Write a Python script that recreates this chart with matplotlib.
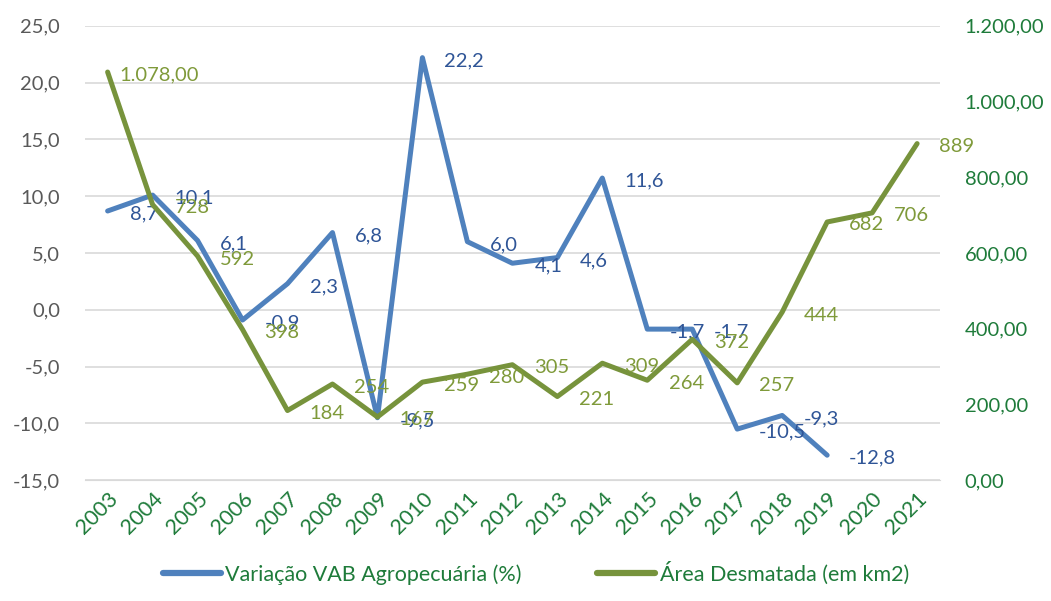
import matplotlib.pyplot as plt
from matplotlib.ticker import FuncFormatter

plt.rcParams['font.family'] = ['Lato', 'DejaVu Sans']

years = [str(y) for y in range(2003, 2022)]
vab_var = [8.7, 10.1, 6.1, -0.9, 2.3, 6.8, -9.5, 22.2, 6.0, 4.1, 4.6, 11.6,
           -1.7, -1.7, -10.5, -9.3, -12.8]
area_desm = [1078, 728, 592, 398, 184, 254, 167, 259, 280, 305, 221, 309,
             264, 372, 257, 444, 682, 706, 889]

blue = '#4F81BD'
blue_txt = '#2F5597'
olive = '#77933C'
olive_txt = '#7F9A3A'
green_txt = '#1E7B3A'
gray_txt = '#595959'


def br_num(v, dec):
    s = f"{v:,.{dec}f}"
    return s.replace(',', 'X').replace('.', ',').replace('X', '.')


fig = plt.figure(figsize=(10.51, 6.01), dpi=100)
ax = fig.add_axes([0.081, 0.201, 0.813, 0.756])
ax2 = ax.twinx()

x_vab = list(range(len(vab_var)))
x_area = list(range(len(area_desm)))

l1, = ax.plot(x_vab, vab_var, color=blue, lw=3.6, solid_capstyle='round',
              label='Variação VAB Agropecuária (%)', zorder=3)
l2, = ax2.plot(x_area, area_desm, color=olive, lw=3.6, solid_capstyle='round',
               label='Área Desmatada (em km2)', zorder=3)

ax.set_ylim(-15, 25)
ax.set_yticks(range(-15, 26, 5))
ax2.set_ylim(0, 1200)
ax2.set_yticks(range(0, 1201, 200))
ax.set_xlim(-0.5, len(years) - 0.5)
ax.set_xticks(range(len(years)))
ax.set_xticklabels(years, rotation=45, ha='right', rotation_mode='anchor',
                   color=green_txt, fontsize=15.5)

ax.yaxis.set_major_formatter(FuncFormatter(lambda v, p: br_num(v, 1)))
ax2.yaxis.set_major_formatter(FuncFormatter(lambda v, p: br_num(v, 2)))
ax.tick_params(axis='y', colors=gray_txt, labelsize=14.5, length=0, pad=18)
ax2.tick_params(axis='y', colors=green_txt, labelsize=14.5, length=0, pad=18)
ax.tick_params(axis='x', length=0, pad=6)

ax.grid(axis='y', color='#D9D9D9', lw=1.2)
ax.set_axisbelow(True)
for a in (ax, ax2):
    for s in a.spines.values():
        s.set_visible(False)
ax.spines['bottom'].set_visible(True)
ax.spines['bottom'].set_color('#D9D9D9')

# data labels, placed to the right of each point
for i, v in enumerate(vab_var):
    ax.annotate(br_num(v, 1), (i, v), xytext=(22, -3), textcoords='offset pixels',
                ha='left', va='center', color=blue_txt, fontsize=14.5, zorder=4)
for i, v in enumerate(area_desm):
    txt = br_num(v, 2) if i == 0 else str(v)
    dx = 12 if i == 0 else 22
    ax2.annotate(txt, (i, v), xytext=(dx, -3), textcoords='offset pixels',
                 ha='left', va='center', color=olive_txt, fontsize=14.5, zorder=4)

leg = fig.legend(handles=[l1, l2], loc='lower center', ncol=2, frameon=False,
                 bbox_to_anchor=(0.51, -0.005), fontsize=15.5, handlelength=2.7,
                 columnspacing=3.5, handletextpad=0.2)
for t in leg.get_texts():
    t.set_color(green_txt)
for h in leg.legend_handles:
    h.set_linewidth(4.5)

fig.savefig('out.png', dpi=100)
